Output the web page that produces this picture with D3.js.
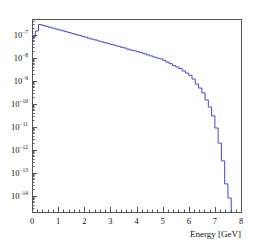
<!DOCTYPE html>
<html>
<head>
<meta charset="utf-8">
<script src="https://cdn.jsdelivr.net/npm/d3@7.9.0/dist/d3.min.js"></script>
<style>
  body { margin: 0; background: #fff; }
  svg { display: block; }
  text { font-family: "Liberation Serif", "DejaVu Serif", serif; fill: #111; }
</style>
</head>
<body>
<svg id="chart" width="254" height="242"></svg>
<script>
// histogram: 64 bins of 0.125 GeV from 0 to 8
const binEdges = d3.range(0, 8.0001, 0.125);
const counts = [
  7.8e-8, 1.42e-7, 2.72e-7, 2.49e-7, 2.28e-7, 2.08e-7, 1.90e-7, 1.73e-7,
  1.58e-7, 1.45e-7, 1.32e-7, 1.21e-7, 1.10e-7, 1.01e-7, 9.2e-8, 8.4e-8,
  7.7e-8, 6.9e-8, 6.3e-8, 5.8e-8, 5.2e-8, 4.8e-8, 4.4e-8, 4.0e-8,
  3.7e-8, 3.4e-8, 3.1e-8, 2.8e-8, 2.6e-8, 2.3e-8, 2.1e-8, 1.95e-8,
  1.79e-8, 1.62e-8, 1.46e-8, 1.30e-8, 1.17e-8, 1.05e-8, 9.5e-9, 8.8e-9,
  7.5e-9, 6.3e-9, 5.4e-9, 4.5e-9, 3.9e-9, 3.3e-9, 2.6e-9, 2.1e-9,
  1.68e-9, 1.16e-9, 7.0e-10, 4.7e-10, 2.9e-10, 1.42e-10, 7.0e-11, 2.9e-11,
  8.6e-12, 1.9e-12, 3.2e-13, 3.2e-14, 7.8e-15, 0, 0, 0
];
const xTicks = [0, 1, 2, 3, 4, 5, 6, 7, 8];
const yExponents = [-7, -8, -9, -10, -11, -12, -13, -14];
const xTitle = 'Energy [GeV]';

const margin = { left: 32, top: 19, right: 13, bottom: 30 };
const width = 254 - margin.left - margin.right;
const height = 242 - margin.top - margin.bottom;

const svg = d3.select('#chart');
const g = svg.append('g').attr('transform', `translate(${margin.left},${margin.top})`);

let x = d3.scaleLinear().domain([0, 8]).range([0, width]);
let y = d3.scaleLog().domain([Math.pow(10, -14.717), Math.pow(10, -6.326)]).range([height, 0]);

// frame
g.append('rect')
  .attr('x', 0.5).attr('y', 0.5)
  .attr('width', width).attr('height', height)
  .attr('fill', 'none').attr('stroke', '#555').attr('stroke-width', 1);

// x ticks (inside, from bottom)
const xMinor = d3.range(0, 8.0001, 0.2);
xMinor.forEach((v) => {
  let major = Math.abs(v - Math.round(v)) < 1e-6;
  let px = Math.round(x(v)) + 0.5;
  g.append('line')
    .attr('x1', px).attr('x2', px)
    .attr('y1', height).attr('y2', height - (major ? 5 : 2.5))
    .attr('stroke', '#555');
});
xTicks.forEach((v) => {
  g.append('text')
    .attr('x', x(v)).attr('y', height + 12)
    .attr('text-anchor', 'middle')
    .attr('font-size', 8.5)
    .text(v);
});

// y ticks (inside, from left)
const [yLo, yHi] = y.domain();
for (let e = -15; e <= -6; e++) {
  for (let m = 1; m <= 9; m++) {
    let v = m * Math.pow(10, e);
    if (v < yLo || v > yHi) continue;
    let py = Math.round(y(v)) + 0.5;
    g.append('line')
      .attr('x1', 0).attr('x2', m === 1 ? 5 : 2.5)
      .attr('y1', py).attr('y2', py)
      .attr('stroke', '#555');
  }
}
yExponents.forEach((e) => {
  let t = g.append('text')
    .attr('x', -4).attr('y', y(Math.pow(10, e)) + 3)
    .attr('text-anchor', 'end')
    .attr('font-size', 8.5);
  t.append('tspan').text('10');
  t.append('tspan').attr('dy', -4).attr('font-size', 5.5).text('\u2212' + Math.abs(e));
});

// histogram outline
const floor = height;
let pts = [];
counts.forEach((c, i) => {
  let py = c > 0 ? y(c) : floor;
  pts.push([x(binEdges[i]), py]);
  pts.push([x(binEdges[i + 1]), py]);
});
let lastNonZero = d3.max(counts.map((c, i) => (c > 0 ? i : -1)));
pts = pts.slice(0, (lastNonZero + 1) * 2);
pts.push([x(binEdges[lastNonZero + 1]), floor]);

g.append('path')
  .attr('d', d3.line()(pts))
  .attr('fill', 'none')
  .attr('stroke', '#4646d2')
  .attr('stroke-width', 1);

// axis title
svg.append('text')
  .attr('x', margin.left + width).attr('y', 237)
  .attr('text-anchor', 'end')
  .attr('font-size', 9)
  .text(xTitle);
</script>
</body>
</html>
